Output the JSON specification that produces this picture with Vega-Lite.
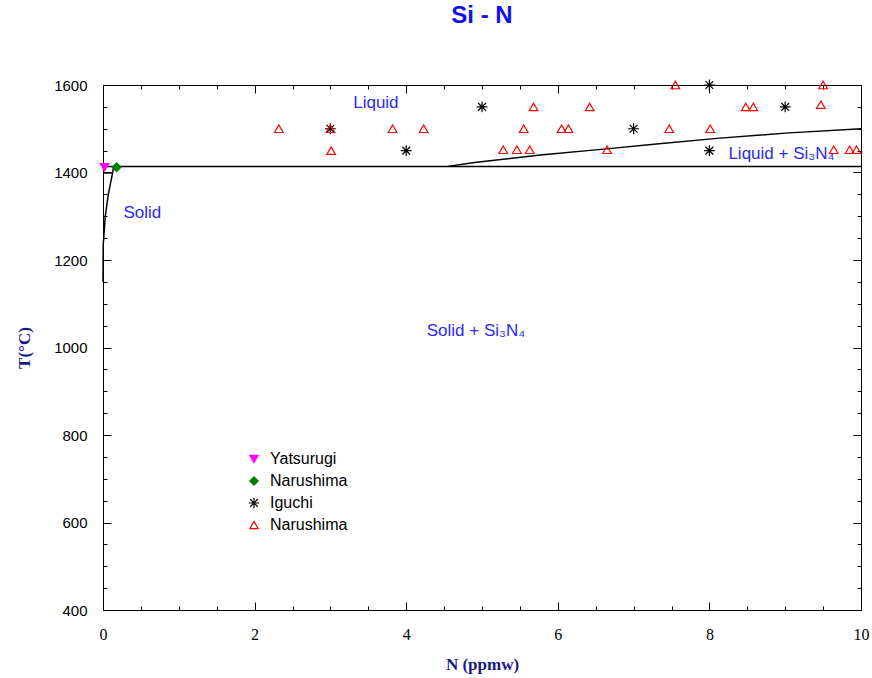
{
  "$schema": "https://vega.github.io/schema/vega-lite/v6.json",
  "width": 758,
  "height": 525,
  "autosize": {"type": "none"},
  "padding": {"left": 103, "top": 85, "right": 11, "bottom": 68},
  "background": "white",
  "title": {"text": "Si - N", "font": "Liberation Sans", "fontSize": 24, "fontWeight": "bold", "color": "#1010f0", "anchor": "middle", "baseline": "bottom", "offset": 25},
  "config": {"view": {"stroke": "black", "strokeWidth": 1}},
  "resolve": {"axis": {"x": "independent", "y": "independent"}},
  "layer": [
    {
      "data": {"values": [
        {"curve": "eutectic", "n": 0, "t": 1414},
        {"curve": "eutectic", "n": 10, "t": 1414},
        {"curve": "liquidus", "n": 4.55, "t": 1414},
        {"curve": "liquidus", "n": 4.9, "t": 1423},
        {"curve": "liquidus", "n": 5.77, "t": 1440},
        {"curve": "liquidus", "n": 6.64, "t": 1454},
        {"curve": "liquidus", "n": 7.3, "t": 1465},
        {"curve": "liquidus", "n": 8.1, "t": 1478},
        {"curve": "liquidus", "n": 9.0, "t": 1490},
        {"curve": "liquidus", "n": 10, "t": 1500},
        {"curve": "solidus", "n": 0.0, "t": 1150},
        {"curve": "solidus", "n": 0.003, "t": 1235},
        {"curve": "solidus", "n": 0.03, "t": 1300},
        {"curve": "solidus", "n": 0.07, "t": 1350},
        {"curve": "solidus", "n": 0.13, "t": 1402},
        {"curve": "solidus", "n": 0.14, "t": 1414},
        {"curve": "step", "n": 0.0, "t": 1399},
        {"curve": "step", "n": 0.12, "t": 1399}
      ]},
      "mark": {"type": "line", "color": "black", "strokeWidth": 1.5},
      "encoding": {
        "x": {"field": "n", "type": "quantitative", "scale": {"domain": [0, 10], "nice": false, "zero": false},
          "axis": {"orient": "bottom", "title": "N (ppmw)", "values": [0,0.5,1,1.5,2,2.5,3,3.5,4,4.5,5,5.5,6,6.5,7,7.5,8,8.5,9,9.5,10],
            "format": "~g",
            "labelExpr": "datum.value % 2 === 0 ? datum.label : ''", "grid": false, "domainColor": "black", "tickColor": "black",
            "tickSize": {"condition": {"test": "datum.value % 2 === 0", "value": -8}, "value": -4},
            "labelFont": "Liberation Sans Narrow", "labelFontSize": 16, "labelColor": "black", "labelPadding": 24, "labelFlush": false,
            "titleFont": "Liberation Serif", "titleFontSize": 17, "titleFontWeight": "bold", "titleColor": "#1a1a8a", "titlePadding": 14}},
        "y": {"field": "t", "type": "quantitative", "scale": {"domain": [400, 1600], "nice": false, "zero": false},
          "axis": {"orient": "left", "title": "T(°C)", "values": [400,450,500,550,600,650,700,750,800,850,900,950,1000,1050,1100,1150,1200,1250,1300,1350,1400,1450,1500,1550,1600],
            "labelExpr": "datum.value % 200 === 0 ? datum.label : ''", "grid": false, "domainColor": "black", "tickColor": "black", "format": "d",
            "tickSize": {"condition": {"test": "datum.value % 200 === 0", "value": -8}, "value": -4},
            "labelFont": "Liberation Sans", "labelFontSize": 15, "labelColor": "black", "labelPadding": 24, "labelFlush": false,
            "titleFont": "Liberation Serif", "titleFontSize": 17, "titleFontWeight": "bold", "titleColor": "#1a1a8a", "titlePadding": 20}},
        "detail": {"field": "curve"}
      }
    },
    {
      "data": {"values": [
        {"label": "Liquid", "n": 3.6, "t": 1559},
        {"label": "Solid", "n": 0.52, "t": 1307},
        {"label": "Solid + Si₃N₄", "n": 4.92, "t": 1038},
        {"label": "Liquid + Si₃N₄", "n": 8.95, "t": 1442}
      ]},
      "mark": {"type": "text", "font": "Liberation Sans", "fontSize": 17, "color": "#2a2af0", "align": "center", "baseline": "middle"},
      "encoding": {
        "x": {"field": "n", "type": "quantitative", "axis": null},
        "y": {"field": "t", "type": "quantitative", "axis": null},
        "text": {"field": "label"}
      }
    },
    {
      "data": {"values": [
        {"source": "Yatsurugi", "n": 0.02, "t": 1412},
        {"source": "Narushima", "n": 0.18, "t": 1412},
        {"source": "Iguchi", "n": 3.0, "t": 1500},
        {"source": "Iguchi", "n": 4.0, "t": 1450},
        {"source": "Iguchi", "n": 5.0, "t": 1550},
        {"source": "Iguchi", "n": 7.0, "t": 1500},
        {"source": "Iguchi", "n": 8.0, "t": 1600},
        {"source": "Iguchi", "n": 8.0, "t": 1450},
        {"source": "Iguchi", "n": 9.0, "t": 1550},
        {"source": "Narushima 2", "n": 2.32, "t": 1500},
        {"source": "Narushima 2", "n": 3.0, "t": 1500},
        {"source": "Narushima 2", "n": 3.01, "t": 1450},
        {"source": "Narushima 2", "n": 3.82, "t": 1500},
        {"source": "Narushima 2", "n": 4.23, "t": 1500},
        {"source": "Narushima 2", "n": 5.28, "t": 1452},
        {"source": "Narushima 2", "n": 5.46, "t": 1452},
        {"source": "Narushima 2", "n": 5.63, "t": 1452},
        {"source": "Narushima 2", "n": 5.55, "t": 1500},
        {"source": "Narushima 2", "n": 5.68, "t": 1550},
        {"source": "Narushima 2", "n": 6.05, "t": 1500},
        {"source": "Narushima 2", "n": 6.14, "t": 1500},
        {"source": "Narushima 2", "n": 6.42, "t": 1550},
        {"source": "Narushima 2", "n": 6.65, "t": 1452},
        {"source": "Narushima 2", "n": 7.47, "t": 1500},
        {"source": "Narushima 2", "n": 7.55, "t": 1600},
        {"source": "Narushima 2", "n": 8.01, "t": 1500},
        {"source": "Narushima 2", "n": 8.48, "t": 1550},
        {"source": "Narushima 2", "n": 8.58, "t": 1550},
        {"source": "Narushima 2", "n": 9.47, "t": 1555},
        {"source": "Narushima 2", "n": 9.5, "t": 1600},
        {"source": "Narushima 2", "n": 9.64, "t": 1452},
        {"source": "Narushima 2", "n": 9.85, "t": 1452},
        {"source": "Narushima 2", "n": 9.94, "t": 1452}
      ]},
      "mark": {"type": "point", "strokeWidth": 1.2, "opacity": 1, "size": 75},
      "encoding": {
        "x": {"field": "n", "type": "quantitative", "axis": null},
        "y": {"field": "t", "type": "quantitative", "axis": null},
        "shape": {"field": "source", "type": "nominal",
          "scale": {"domain": ["Yatsurugi", "Narushima", "Iguchi", "Narushima 2"],
            "range": ["triangle-down", "diamond", "M0,-1.25L0,1.25M-1.25,0L1.25,0M-0.9,-0.9L0.9,0.9M-0.9,0.9L0.9,-0.9", "triangle-up"]},
          "legend": {"orient": "none", "legendX": 143, "legendY": 366, "title": null, "labelExpr": "datum.label == 'Narushima 2' ? 'Narushima' : datum.label",
            "labelFont": "Liberation Sans", "labelFontSize": 16, "labelColor": "black", "rowPadding": 6, "labelOffset": 8, "symbolStrokeWidth": 1.2, "symbolSize": 70}},
        "stroke": {"field": "source", "type": "nominal",
          "scale": {"domain": ["Yatsurugi", "Narushima", "Iguchi", "Narushima 2"], "range": ["#ff00ff", "#008000", "black", "#ff0000"]}},
        "fill": {"field": "source", "type": "nominal",
          "scale": {"domain": ["Yatsurugi", "Narushima", "Iguchi", "Narushima 2"], "range": ["#ff00ff", "#008000", "transparent", "transparent"]}}
      }
    },
    {
      "data": {"values": [{"n": 0, "t": 400}]},
      "mark": {"type": "point", "opacity": 0},
      "encoding": {
        "x": {"field": "n", "type": "quantitative",
          "axis": {"orient": "top", "title": null, "labels": false, "values": [0,0.5,1,1.5,2,2.5,3,3.5,4,4.5,5,5.5,6,6.5,7,7.5,8,8.5,9,9.5,10],
            "grid": false, "domainColor": "black", "tickColor": "black",
            "tickSize": {"condition": {"test": "datum.value % 2 === 0", "value": -8}, "value": -4}}},
        "y": {"field": "t", "type": "quantitative",
          "axis": {"orient": "right", "title": null, "labels": false, "values": [400,450,500,550,600,650,700,750,800,850,900,950,1000,1050,1100,1150,1200,1250,1300,1350,1400,1450,1500,1550,1600],
            "grid": false, "domainColor": "black", "tickColor": "black",
            "tickSize": {"condition": {"test": "datum.value % 200 === 0", "value": -8}, "value": -4}}}
      }
    }
  ]
}
